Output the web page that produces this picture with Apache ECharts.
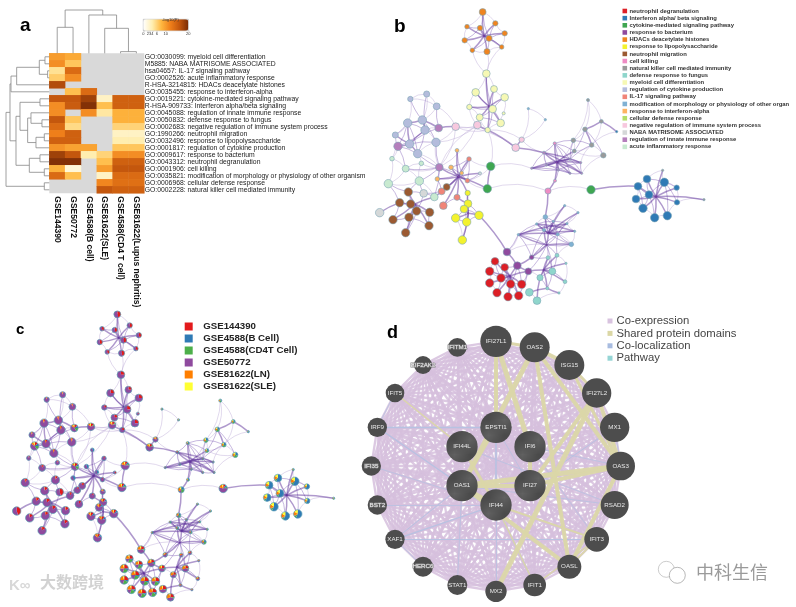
<!DOCTYPE html>
<html><head><meta charset="utf-8">
<style>html,body{margin:0;padding:0;background:#fff}#c{width:796px;height:607px;filter:blur(0.45px)}</style>
<script src="https://cdn.jsdelivr.net/npm/echarts@6/dist/echarts.min.js"></script></head>
<body><div id="c"></div>
<script>
// ---------- panel a: enrichment heatmap ----------
const heatColumns = ['GSE144390','GSE50772','GSE4588(B cell)','GSE81622(SLE)','GSE4588(CD4 T cell)','GSE81622(Lupus nephritis)'];
const heatTerms = ['GO:0030099: myeloid cell differentiation','M5885: NABA MATRISOME ASSOCIATED','hsa04657: IL-17 signaling pathway','GO:0002526: acute inflammatory response','R-HSA-3214815: HDACs deacetylate histones','GO:0035455: response to interferon-alpha','GO:0019221: cytokine-mediated signaling pathway','R-HSA-909733: Interferon alpha/beta signaling','GO:0045088: regulation of innate immune response','GO:0050832: defense response to fungus','GO:0002683: negative regulation of immune system process','GO:1990266: neutrophil migration','GO:0032496: response to lipopolysaccharide','GO:0001817: regulation of cytokine production','GO:0009617: response to bacterium','GO:0043312: neutrophil degranulation','GO:0001906: cell killing','GO:0035821: modification of morphology or physiology of other organism','GO:0006968: cellular defense response','GO:0002228: natural killer cell mediated immunity'];
const heatValues = [
 [10,9,null,null,null,null],[11,7,null,null,null,null],[5,14,null,null,null,null],[6.5,11,null,null,null,null],
 [17,null,null,null,null,null],[null,7.5,14,null,null,null],[16,16,18,3,15,15],[11,15.5,19.5,7.5,15,15],
 [11,null,11,4.5,8.5,8.5],[16,7,null,null,8.5,8.5],[14,5.5,null,null,6,6],[12,15,null,null,3,3],
 [15,15,null,null,4,4],[10.5,9.5,9.5,null,7,7],[18,16,4,6,11,11],[19.5,19.5,null,7.5,15,15],
 [8.5,2,null,10,16,16],[14,7.5,null,3,14,14],[null,null,null,11.5,13.5,13.5],[null,null,null,16,15,15]];
const heatScaleTicks = [0,2,3,4,6,10,20];
const rowMerges = [[0,1,13],[2,3,5],[20,21,30],[22,4,98],[23,5,115],[6,7,28],[9,10,22],[8,26,55],[11,12,15],[28,13,40],[27,29,65],[25,30,88],[14,15,28],[16,17,15],[32,33,60],[31,34,100],[24,35,118],[18,19,15],[36,37,130]];
const colMerges = [[0,1,78],[4,5,5],[3,7,75],[2,8,115],[6,9,130]];

// ---------- panels b/c: the enrichment network ----------
const termNames = ['neutrophil degranulation','Interferon alpha/ beta signaling','cytokine-mediated signaling pathway','response to bacterium','HDACs deacetylate histones','response to lipopolysaccharide','neutrophil migration','cell killing','natural killer cell mediated immunity','defense response to fungus','myeloid cell differentiation','regulation of cytokine production','IL-17 signaling pathway','modification of morphology or physiology of other organ','response to interferon-alpha','cellular defense response','negative regulation of immune system process','NABA MATRISOME ASSOCIATED','regulation of innate immune response','acute inflammatory response'];
const termColors = ['#dc1f26','#2f7ab5','#3fa651','#8f4a9e','#ef8420','#f3f22e','#9b5a32','#ee8cc4','#9a9a9a','#8fd6cc','#f6f8b4','#b4bcdc','#f08478','#80b1d3','#fdb462','#b3de69','#f7c8de','#d5d8d8','#b57fbc','#c8ead0'];
const datasetNames = ['GSE144390','GSE4588(B Cell)','GSE4588(CD4T Cell)','GSE50772','GSE81622(LN)','GSE81622(SLE)'];
const datasetColors = ['#e31a1c','#2f7ab5','#4daf4a','#8f4a9e','#ff7f00','#ffff33'];
const termDatasets = [[25,8,22,20,20,5],[0,58,8,2,17,15],[10,8,6,56,15,5],[20,5,5,45,18,7],[45,0,0,55,0,0],[12,8,0,68,10,2],[15,0,0,83,2,0],[0,25,25,15,25,10],[0,30,30,0,25,15],[25,0,5,40,25,5],[25,0,0,75,0,0],[5,0,0,90,5,0],[12,0,0,88,0,0],[5,20,30,15,25,5],[0,40,0,60,0,0],[5,20,30,15,25,5],[15,0,5,65,10,5],[45,0,0,55,0,0],[15,10,15,45,10,5],[10,0,0,88,2,0]];
const netNodes = [
['o0',428,36,9,4],['o1',381,80,6,4],['o2',466,70,7,4],['o3',420,84,7,4],['o4',494,100,7,4],['o5',374,121,7,4],['o6',447,115,8,4],['o7',397,151,6,4],['o8',441,155,8,4],['o9',485,141,6,4],['O',432,108,1.5,3],
['y0',439,221,10,10],['y1',407,277,10,10],['y2',462,267,9,10],['y3',494,292,10,10],['y4',388,321,7,10],['y5',458,327,10,10],['y6',491,340,4,10],['y7',419,352,9,10],['y8',482,369,10,10],['y9',443,390,7,10],['Y',447,320,1.5,3],
['p0',347,380,10,16],['p1',412,375,10,16],['p2',527,443,10,16],['p3',545,419,7,16],['t0',565,326,3,13],['t1',616,359,3,13],
['b0',211,297,7,11],['b1',260,282,8,11],['b2',290,319,9,11],['b3',203,369,11,11],['b4',247,360,11,11],['b5',255,390,11,11],['b6',166,405,8,11],['b7',209,432,11,11],['b8',288,427,11,11],['b9',233,461,11,11],
['m0',296,384,10,18],['m1',174,439,11,18],['m2',298,502,10,18],
['g0',156,476,6,19],['g1',197,506,9,19],['g2',244,490,6,19],['g3',145,551,11,19],['g4',238,543,11,19],['g5',283,591,10,19],
['s0',351,451,5,14],['s1',387,477,6,12],['s2',333,502,6,14],['s3',365,519,5,14],['s4',420,520,4,17],['s5',382,542,6,12],['s6',292,537,6,14],['s7',305,574,9,12],['s8',351,592,8,12],['s9',310,617,10,12],['S',355,530,1.5,3],
['w0',251,580,10,17],['w1',119,638,11,17],
['n0',205,576,11,6],['n1',179,608,11,6],['n2',212,612,11,6],['n3',230,633,11,6],['n4',269,637,11,6],['n5',159,659,11,6],['n6',207,652,11,6],['n7',267,677,11,6],['n8',197,698,11,6],['n9',320,561,9,6],['N',225,612,1.5,3],
['l0',383,579,7,5],['l1',384,611,10,5],['l2',372,627,10,5],['l3',347,654,11,5],['l4',417,646,11,5],['l5',380,666,11,5],['l6',367,720,11,5],['L',385,640,1.5,3],
['e0',452,499,11,2],['e1',442,566,11,2],['e2',753,569,11,2],['k0',624,573,8,7],
['k1',644,430,4,7],['k2',612,458,4,18],['k3',575,505,3,18],['k4',690,478,3,18],['k5',722,488,3,18],['k6',690,520,3,18],['k7',725,520,3,18],['k8',620,495,3,18],['k9',655,510,3,18],['k10',645,542,4,7],['C',650,487,1.5,3],
['q0',744,300,4,8],['q1',784,364,5,8],['q2',735,388,6,8],['q3',830,395,3,1],['q4',700,421,6,8],['q5',755,435,6,8],['q6',703,453,5,8],['q7',790,466,7,8],
['u0',674,617,3,13],['u1',714,638,3,13],['u2',616,651,6,13],['u3',590,672,3,13],['u4',640,664,3,13],['u5',681,671,3,13],['u6',612,690,4,13],['u7',704,694,3,13],['u8',653,703,4,13],['u9',535,704,3,13],['u10',694,733,6,13],['U',625,700,1.5,3],['W',620,735,1.5,3],
['v0',501,756,10,3],['v1',532,797,10,3],['v2',575,772,6,3],['v3',565,814,9,3],
['f0',624,773,5,9],['f1',651,766,5,9],['f2',678,790,3,9],['f3',600,833,8,9],['f4',637,814,9,9],['f5',675,845,5,9],['f6',657,879,3,9],['f7',622,865,4,9],['f8',568,877,10,9],['f9',591,902,10,9],['F',610,810,1.5,3],
['a0',465,784,10,0],['a1',494,802,10,0],['a2',449,814,11,0],['a3',483,834,11,0],['a4',449,849,11,0],['a5',512,852,11,0],['a6',545,853,11,0],['a7',471,878,11,0],['a8',504,890,11,0],['a9',536,887,11,0],['A',510,828,1.5,3],
['r0',968,511,3,8],['r1',921,537,10,1],['r2',973,547,11,1],['r3',894,559,10,1],['r4',1010,563,7,1],['r5',927,584,10,1],['r6',888,597,10,1],['r7',1011,607,7,1],['r8',909,625,11,1],['r9',944,653,11,1],['r10',982,647,11,1],['r11',1092,599,3,8],['R',948,590,1.5,3]];
const strongLinks = [['O','o0 o1 o2 o3 o4 o5 o6 o7 o8 o9'],['Y','y0 y1 y2 y3 y4 y5 y7 y8 y9'],['y9','p2 p1'],
['b7','b3 b5 b6 m1 b9'],['b4','b3 b5 m0'],['m0','p0'],['S','s0 s1 s2 s3 s4 s5 s6 m2 s7 s8 s9 n9 e1 l0'],
['N','n0 n1 n2 n3 n4 n5 n6 n7 n8 g5'],['w1','n1'],['n9','g5'],['L','l0 l1 l2 l3 l4 l5 l6'],['l1','s8'],['l4','v0'],['e1','e0'],['e2','r3'],
['C','k1 k2 k3 k4 k5 k6 k7 k8 k9 k10 q6'],['k2','k5 k7'],['k3','k4'],['p2','k2 p3'],['k10','k0'],['k0','u2'],['q1','q3 q2'],['q2','q5'],
['U','u0 u1 u2 u3 u4 u5 u6 u7 u8 W'],['u9','u5 u8'],['u3','u7'],['W','u9 u10 u6 v2'],['v2','v1'],['F','f0 f1 f2 f3 f4 f5 f7'],['f9','f3'],['f8','f7'],['f6','f7'],['v3','v1 F'],
['A','a0 a1 a2 a3 a4 a5 a6 a7 a8 a9 v1 v3'],['v0','v1'],['R','r0 r1 r2 r3 r4 r5 r6 r7 r8 r9 r10 r11']];
const midLinks = [['o6','o3 o9 o8 o2 o4 o7 o0'],['o3','o1 o5'],
['y5','y1 y2 y7 y8 y4 y9 y3 y0'],['y7','y8'],
['b3','b5 b9 m1 b6'],['b5','b9 m1 b1'],['b4','b8 b0'],['b7','b8 m0'],['m0','b2'],['m2','b9 b8 g4 g1 g5 s6 s5'],['m1','g1 b9'],
['n0','g3 g4 w0 n2'],['g3','n1'],['w0','g4 n3 g5'],
['s1','s2 s5 s3'],['s2','s5'],['s3','s6 s0'],['s6','s7'],['s7','w0'],['s4','s5'],['s9','s8'],
['n2','n1 n3'],['n3','n4 n6 n8'],['n6','n5 n7 n8'],['n7','n4'],['n1','n5'],
['l1','l0 l2 l4'],['l2','l3 l4 l5'],['l5','l3 l4 l6'],
['k1','k2 k4 q6 q4 k9 k6'],['k8','k2 k9 k4 k6'],['k9','k3 k6 k10 k5'],['k4','k5 k7 q6 q4 q5'],['k7','k5 k6'],['k3','k6 k2'],['q2','q6 q7'],['q4','q5'],
['u2','u4 u6 u8'],['u4','u5 u8 u0 u6'],['u8','u5 u6 u1 u7 W'],['u3','u6 u4 u8'],['u9','u6 u3 v2 v0 W'],['u10','u6 W u8'],['v2','u6 u8 W'],
['W','v3 f0 f1 f4'],['f0','v2 f4 f3'],['f1','u8 f4'],['f4','f5 f7'],['f3','f7 f4'],
['a3','a0 a1 a2 a5 a7'],['a5','a6 a8 a9 a1'],['v1','a1 a5 a6'],['v3','a6 a9'],
['r5','r1 r2 r3 r6 r8 r9'],['r1','r2'],['r2','r10 r4 r7'],['r3','r8']];
const weakLinks = [['o0','o1 o2 o3'],['o5','o1 o7'],['o8','o7 o9 y0'],['o4','o2 o9'],['y0','o7 o9 y1 y2'],['y3','y2 y6'],['y4','y1 y7'],['y9','y7 y8 e0 p3 p0'],['y8','y6'],['p1','p0 b8 m2 y4'],
['t0','t1 p3'],['t1','p3'],['b0','b1 b2 b3'],['b1','b2 b4'],['b2','b4 p0'],['b5','b8 m0'],['b3','b6'],['m1','b6 g0'],['b6','g0'],['b9','b8 m2 g2'],['p0','b8 m2 p2'],['m2','b8 g2 g1 p1'],
['g0','g1 g3'],['g1','g3 g4 g2'],['g4','g3 g2 g5'],['e0','s1 s5 k3'],['e1','k0 s5'],['k0','e2'],['l3','l6'],['q0','q1 q2 q4'],['q1','q5'],['q2','q4'],['q5','q3 q7 q6'],['q7','q6'],['q4','q6 C'],['k5','q5'],['k7','q7'],
['k2','p3'],['k8','k2 k3'],['u0','u1 u2'],['u1','u5'],['u3','u2 u9'],['u7','u10 u5'],['u8','u10'],['u9','v0'],['v0','W'],['f1','f2 u10'],['f2','f5'],['f5','f6'],['f8','f9'],['f9','f6'],['v3','f3'],['a0','a1'],['a4','a7'],['a8','a9'],['a6','a9'],['a2','a0 a4'],['r3','r6 r1'],['r1','r0'],['r2','r0 r4'],['r4','r7'],['r7','r11'],['r6','r8'],['r9','r10'],['r8','r9'],['r10','r7']];

// ---------- panel d: gene network ----------
const geneNames = ['IFI27L1','OAS2','ISG15','IFI27L2','MX1','OAS3','RSAD2','IFIT3','OASL','IFIT1','MX2','STAT1','HERC6','XAF1','BST2','IFI35','IRF9','IFIT5','EIF2AK2','IFITM1','EPSTI1','IFI44L','IFI6','OAS1','IFI27','IFI44'];
const geneX = [468,584,688,770,824,842,824,770,688,584,468,352,249,165,112,94,112,165,249,352,468,366,570,366,570,468];
const geneY = [94,112,165,249,352,468,585,688,770,825,844,825,770,688,585,468,352,249,165,112,352,410,410,527,527,585];
const geneWeight = [47,45,45,44,44,43,42,37,36,34,32,30,30,29,29,29,29,28,27,28,47,47,47,47,47,47];
const queryGenes = ['EPSTI1','IFI44L','IFI6','OAS1','IFI27','IFI44'];
const boxedLabels = ['EIF2AK2','IFITM1','HERC6','IFI35','BST2'];
const sharedDomains = [['IFI27L1','IFI6',5],['IFI27L1','EPSTI1',4],['OAS2','OAS1',5],['OAS2','OAS3',4],['OAS2','ISG15',4],['OAS2','IFI27L1',3],['OAS2','OASL',4],['ISG15','OAS3',3],['IFI27L2','MX2',5],['IFI27L2','OAS3',4],['IFI27L2','ISG15',3],['OAS3','OAS1',5],['OAS3','IFI27',4],['OAS1','IFI27',4],['OAS1','OASL',4],['OAS1','IFI44',3],['OAS3','OASL',4],['IFI27L2','IFI27',4],['IFI44','IFI44L',3],['IFIT5','IFI44L',1.5],['IFIT3','IFI44',2],['IFIT1','IFI44',1.5],['IFI6','IFI27',4],['IFIT3','IFIT1',1.5],['OASL','IFIT3',2],['EPSTI1','OAS1',3]];
const coLocalized = [['IRF9','EPSTI1',1.3],['IRF9','OAS1',1.3],['IFI35','IFI44',0.8],['XAF1','IFI44',1.3],['XAF1','OAS1',1],['XAF1','IFIT3',1],['XAF1','HERC6',0.8],['IFI44','IFIT3',0.8],['MX1','OAS3',0.8],['EPSTI1','IFI44',1.6],['IFI6','OAS3',0.8],['EPSTI1','IFI27',0.8],['MX1','IFI27',1],['RSAD2','OAS1',0.8],['IFIT1','IFI44',1.2],['IRF9','IFIT5',0.8],['BST2','IFI44',0.8],['STAT1','OAS1',0.8],['MX2','IFI44',0.8],['RSAD2','IFI44L',0.8],['IFIT3','IFI6',0.8]];
const geneLegendNames = ['Co-expression','Shared protein domains','Co-localization','Pathway'];
const geneLegendColors = ['#d8c3df','#dbd7a5','#a8bce0','#95d5d5'];

const chart = echarts.init(document.getElementById('c'), null, {renderer:'canvas'});
const ARIAL = 'Liberation Sans, Arial, sans-serif';
const PX = 1/3, NODE = 1.15;

function treePaths(n, merges){
  const pos=[], ht=[]; for(let i=0;i<n;i++){pos[i]=i+0.5;ht[i]=0;}
  return merges.map((m,k)=>{const [a,b,h]=m; const p=[pos[a],ht[a],pos[a],h,pos[b],h,pos[b],ht[b]];
    pos[n+k]=(pos[a]+pos[b])/2; ht[n+k]=h; return p;});
}
function dendro(paths, swap, gi){
  return {type:'custom',coordinateSystem:'cartesian2d',xAxisIndex:gi,yAxisIndex:gi,silent:true,clip:false,
    data:paths.map(p=>swap?[p[1],p[0],p[3],p[2],p[5],p[4],p[7],p[6]]:p),
    encode:{x:0,y:1},
    renderItem:(params,api)=>({type:'polyline',shape:{points:[0,2,4,6].map(i=>api.coord([api.value(i),api.value(i+1)]))},
      style:{fill:null,stroke:'#888',lineWidth:0.8}})};
}
const splitList=(rows)=>rows.flatMap(([h,l])=>l.split(' ').map(t=>[h,t]));
function netLinks(){
  const out=[];
  splitList(weakLinks).forEach(([a,b])=>out.push({source:a,target:b,lineStyle:{color:'#bcaad6',width:0.9,curveness:0.18}}));
  splitList(midLinks).forEach(([a,b])=>out.push({source:a,target:b,lineStyle:{color:'#8f72c0',width:1,curveness:0.1}}));
  splitList(strongLinks).forEach(([a,b])=>out.push({source:a,target:b,lineStyle:{color:'#5f349c',width:1.5,curveness:0.06}}));
  return out;
}
function netSeries(gi, showNodes){
  return {type:'graph',layout:'none',coordinateSystem:'cartesian2d',xAxisIndex:gi,yAxisIndex:gi,silent:true,
    data:netNodes.map(n=>({name:n[0],value:[n[1],n[2]],symbolSize:showNodes?2*n[3]*PX*NODE:0.1,
      itemStyle:{color:termColors[n[4]],borderColor:n[3]<2?termColors[n[4]]:'#7da6b5',borderWidth:n[3]<2?0:0.6}})),
    links:netLinks(),label:{show:false},emphasis:{disabled:true}};
}
const pieSeries=(gi)=>({type:'custom',coordinateSystem:'cartesian2d',xAxisIndex:gi,yAxisIndex:gi,silent:true,clip:false,
  data:netNodes.filter(n=>n[3]>=2).map(n=>[n[1],n[2],n[3],n[4]]),encode:{x:0,y:1},
  renderItem:(params,api)=>{
    const c=api.coord([api.value(0),api.value(1)]), r=api.value(2)*PX*NODE, share=termDatasets[api.value(3)];
    const total=share.reduce((a,b)=>a+b,0); let ang=-Math.PI/2; const children=[];
    share.forEach((s,i)=>{ if(!s) return; const e=ang+2*Math.PI*s/total;
      children.push({type:'sector',shape:{cx:c[0],cy:c[1],r:r,r0:0,startAngle:ang,endAngle:e},style:{fill:datasetColors[i]}}); ang=e;});
    children.push({type:'circle',shape:{cx:c[0],cy:c[1],r:r},style:{fill:null,stroke:'#5a9fb5',lineWidth:0.7}});
    return {type:'group',children};
  }});

const hatch=document.createElement('canvas');hatch.width=hatch.height=4;
(()=>{const g=hatch.getContext('2d');g.fillStyle='#4a4a4a';g.fillRect(0,0,4,4);g.strokeStyle='#6b6b6b';g.lineWidth=0.7;
 g.beginPath();g.moveTo(0,4);g.lineTo(4,0);g.moveTo(-1,1);g.lineTo(1,-1);g.moveTo(3,5);g.lineTo(5,3);g.stroke();})();

function geneLinks(){
  const out=[];
  geneNames.forEach((a,i)=>geneNames.slice(i+1).forEach(b=>out.push({source:a,target:b,lineStyle:{color:'#d6bfdd',width:2.3,opacity:0.85,curveness:0}})));
  coLocalized.forEach(([a,b,w])=>out.push({source:a,target:b,lineStyle:{color:'#b4c2e2',width:w,opacity:0.9,curveness:0}}));
  sharedDomains.forEach(([a,b,w])=>out.push({source:a,target:b,lineStyle:{color:'#dbd7a8',width:w,opacity:0.95,curveness:0}}));
  return out;
}
const hiddenAxis=(min,max,inv)=>({type:'value',show:false,min,max,inverse:!!inv,scale:false});
const dummy=(names,colors)=>names.map((name,i)=>({type:'scatter',name,data:[],xAxisIndex:0,yAxisIndex:0,itemStyle:{color:colors[i],opacity:1}}));

const option={
 animation:false,backgroundColor:'#fff',
 title:[
  {text:'a',left:15,top:11,textStyle:{fontFamily:ARIAL,fontSize:19,fontWeight:'bold',color:'#000'}},
  {text:'b',left:389,top:12,textStyle:{fontFamily:ARIAL,fontSize:19,fontWeight:'bold',color:'#000'}},
  {text:'c',left:11,top:317,textStyle:{fontFamily:ARIAL,fontSize:15,fontWeight:'bold',color:'#000'}},
  {text:'d',left:382,top:319,textStyle:{fontFamily:ARIAL,fontSize:18,fontWeight:'bold',color:'#000'}},
  {text:'-log10(P)',left:165.5,top:13,textAlign:'center',textStyle:{fontFamily:ARIAL,fontSize:4,fontWeight:'normal',color:'#333'}}
 ],
 grid:[
  {left:49.3,top:53.3,width:95,height:140,show:true,backgroundColor:'#d9d9d9',borderWidth:0},
  {left:6,top:53.3,width:43.3,height:140},
  {left:49.3,top:10,width:95,height:43.3},
  {left:143.3,top:19.3,width:45,height:11.4,show:true,backgroundColor:'transparent',borderColor:'#999',borderWidth:0.5},
  {left:340,top:0,width:456,height:310},
  {left:10.5,top:302.6,width:413,height:294},
  {left:340,top:310,width:340,height:297}
 ],
 xAxis:[
  {type:'category',data:heatColumns,gridIndex:0,position:'bottom',axisLine:{show:false},axisTick:{show:false},splitLine:{show:false},
   axisLabel:{rotate:-90,margin:3,fontFamily:ARIAL,fontSize:8.5,fontWeight:'bold',color:'#111',interval:0}},
  {...hiddenAxis(0,130,true),gridIndex:1},
  {...hiddenAxis(0,6),gridIndex:2},
  {type:'value',gridIndex:3,min:0,max:20,splitLine:{show:false},axisLine:{show:false},
   axisTick:{show:true,length:1,customValues:heatScaleTicks,lineStyle:{width:0.4,color:'#666'}},
   axisLabel:{customValues:heatScaleTicks,fontFamily:ARIAL,fontSize:4,margin:1.5,color:'#333'}},
  {...hiddenAxis(0,1368),gridIndex:4},
  {...hiddenAxis(100,1368),gridIndex:5},
  {...hiddenAxis(0,1020),gridIndex:6}
 ],
 yAxis:[
  {type:'category',data:heatTerms,gridIndex:0,inverse:true,position:'right',axisLine:{show:false},axisTick:{show:false},splitLine:{show:false},
   axisLabel:{margin:0.5,fontFamily:ARIAL,fontSize:6.8,color:'#222',interval:0}},
  {...hiddenAxis(0,20,true),gridIndex:1},
  {...hiddenAxis(0,130),gridIndex:2},
  {...hiddenAxis(0,1),gridIndex:3},
  {...hiddenAxis(0,930,true),gridIndex:4},
  {...hiddenAxis(0,900,true),gridIndex:5},
  {...hiddenAxis(0,891,true),gridIndex:6}
 ],
 visualMap:[{type:'continuous',min:0,max:20,seriesIndex:0,orient:'horizontal',left:143.3,top:19.3,itemWidth:11.4,itemHeight:45,text:null,calculable:false,realtime:false,padding:0,showLabel:false,
  inRange:{color:['#ffffff','#ffeeb0','#ffb840','#ef7f1a','#c4570d','#7a2c05']},textStyle:{fontSize:1,color:'transparent'}}],
 legend:[
  {orient:'vertical',left:622.5,top:8,itemWidth:4.6,itemHeight:4.6,itemGap:1.15,icon:'rect',padding:0,selectedMode:false,data:termNames,
   textStyle:{fontFamily:ARIAL,fontSize:5.9,fontWeight:'bold',color:'#333',padding:[0,0,0,-2.6]}},
  {orient:'vertical',left:184.7,top:321.5,itemWidth:8,itemHeight:8,itemGap:2,icon:'rect',padding:0,selectedMode:false,data:datasetNames,
   textStyle:{fontFamily:ARIAL,fontSize:9.7,fontWeight:'bold',color:'#222',padding:[0,0,0,5.5]}},
  {orient:'vertical',left:607.5,top:315.5,itemWidth:5,itemHeight:5,itemGap:1.4,icon:'rect',padding:0,selectedMode:false,data:geneLegendNames,
   textStyle:{fontFamily:ARIAL,fontSize:11.3,color:'#444',padding:[0,0,0,-1]}}
 ],
 graphic:[
  {type:'text',left:40,top:574,silent:true,style:{text:'大数跨境',font:'bold 16px "Noto Sans CJK SC"',fill:'#d2d2d2'}},
  {type:'text',left:9,top:578,silent:true,style:{text:'K∞',font:'bold 15px "Liberation Sans"',fill:'#d8d8d8'}},
  {type:'text',left:696,top:563,silent:true,style:{text:'中科生信',font:'18px "Noto Sans CJK SC"',fill:'#9a9a9a'}},
  {type:'circle',left:658,top:561,silent:true,shape:{r:8},style:{fill:'#fff',stroke:'#aaa',lineWidth:0.6}},
  {type:'circle',left:669,top:567,silent:true,shape:{r:8},style:{fill:'#fff',stroke:'#888',lineWidth:0.6}}
 ],
 series:[
  {type:'heatmap',xAxisIndex:0,yAxisIndex:0,silent:true,itemStyle:{borderWidth:0},
   data:heatValues.flatMap((r,y)=>r.map((v,x)=>[x,y,v])).filter(d=>d[2]!==null)},
  dendro(treePaths(heatTerms.length,rowMerges),true,1),
  dendro(treePaths(heatColumns.length,colMerges),false,2),
  netSeries(4,true),
  netSeries(5,false),
  pieSeries(5),
  {type:'graph',layout:'none',coordinateSystem:'cartesian2d',xAxisIndex:6,yAxisIndex:6,silent:true,emphasis:{disabled:true},
   data:geneNames.map((g,i)=>({name:g,value:[geneX[i],geneY[i]],symbolSize:2*geneWeight[i]*PX,
     itemStyle:{color:queryGenes.includes(g)?{image:hatch,repeat:'repeat'}:'#4d4d4d'},
     label:boxedLabels.includes(g)?{textBorderColor:'#888',textBorderWidth:1}:{}})),
   links:geneLinks(),
   label:{show:true,position:'inside',formatter:'{b}',fontFamily:ARIAL,fontSize:6.2,color:'#e9e9e9'}},
  ...dummy(termNames,termColors),...dummy(datasetNames,datasetColors),...dummy(geneLegendNames,geneLegendColors)
 ]
};
chart.setOption(option);
</script></body></html>
